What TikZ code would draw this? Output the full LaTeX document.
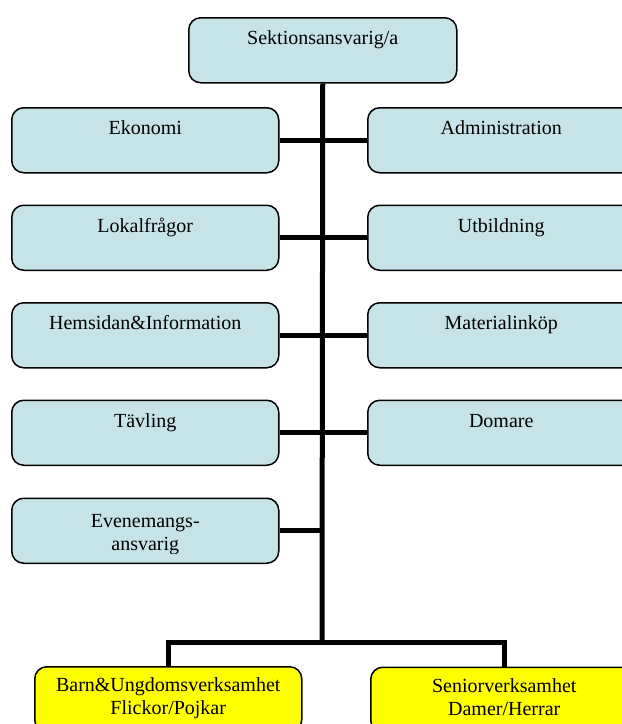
\documentclass[tikz,border=0pt]{standalone}
\usepackage{fontspec}
\setmainfont{Liberation Serif}
\definecolor{orgblue}{RGB}{198,228,232}
\definecolor{orgyellow}{RGB}{255,255,0}
\tikzstyle{unit} = [draw=black, line width=1.5pt, rounded corners=12pt, fill=orgblue, minimum width=267pt, minimum height=65pt, inner sep=0pt, anchor=north west, text height=27pt, text depth=38pt, font=\fontsize{20}{23}\selectfont]
\tikzstyle{team} = [unit, fill=orgyellow, align=center, text height=48pt, text depth=17pt]
\tikzstyle{link} = [line width=5pt]

\begin{document}
\begin{tikzpicture}[x=1pt,y=-1pt]
\useasboundingbox (0,0) rectangle (622,724);
\node[unit, minimum width=268pt] (sektion) at (188,17) {Sektionsansvarig/a};
\node[unit] (ekonomi) at (11,107) {Ekonomi};
\node[unit] (lokal) at (11,204.5) {Lokalfrågor};
\node[unit] (hemsida) at (11,302) {Hemsidan\&Information};
\node[unit] (tavling) at (11,399.5) {Tävling};
\node[unit] (evenemang) at (11,497.5) {};
\node[unit] (admin) at (367,107) {Administration};
\node[unit] (utbildning) at (367,204.5) {Utbildning};
\node[unit] (material) at (367,302) {Materialinköp};
\node[unit] (domare) at (367,399.5) {Domare};
\node[team] (barn) at (34,666) {Barn\&Ungdomsverksamhet\\Flickor/Pojkar};
\node[team] (senior) at (370,666.5) {Seniorverksamhet\\Damer/Herrar};
\begin{scope}
\clip (evenemang.north west) rectangle ([yshift=11pt]evenemang.south east);
\node[anchor=north, align=center, inner sep=0pt, font=\fontsize{20}{23}\selectfont, text height=53pt, text depth=12pt] (evenemangtext) at (evenemang.north) {Evenemangs-\\ansvarig};
\end{scope}
\coordinate (split) at (322,642.5);
\draw[link] (sektion.south) -- (split);
\draw[link] (ekonomi.east) -- (admin.west);
\draw[link] (lokal.east) -- (utbildning.west);
\draw[link] (hemsida.east) -- (material.west);
\draw[link] (tavling.east) -- (domare.west);
\draw[link] (evenemang.east) -- (evenemang.east -| split);
\draw[link] (barn.north) |- (split) -| (senior.north);
\end{tikzpicture}
\end{document}
